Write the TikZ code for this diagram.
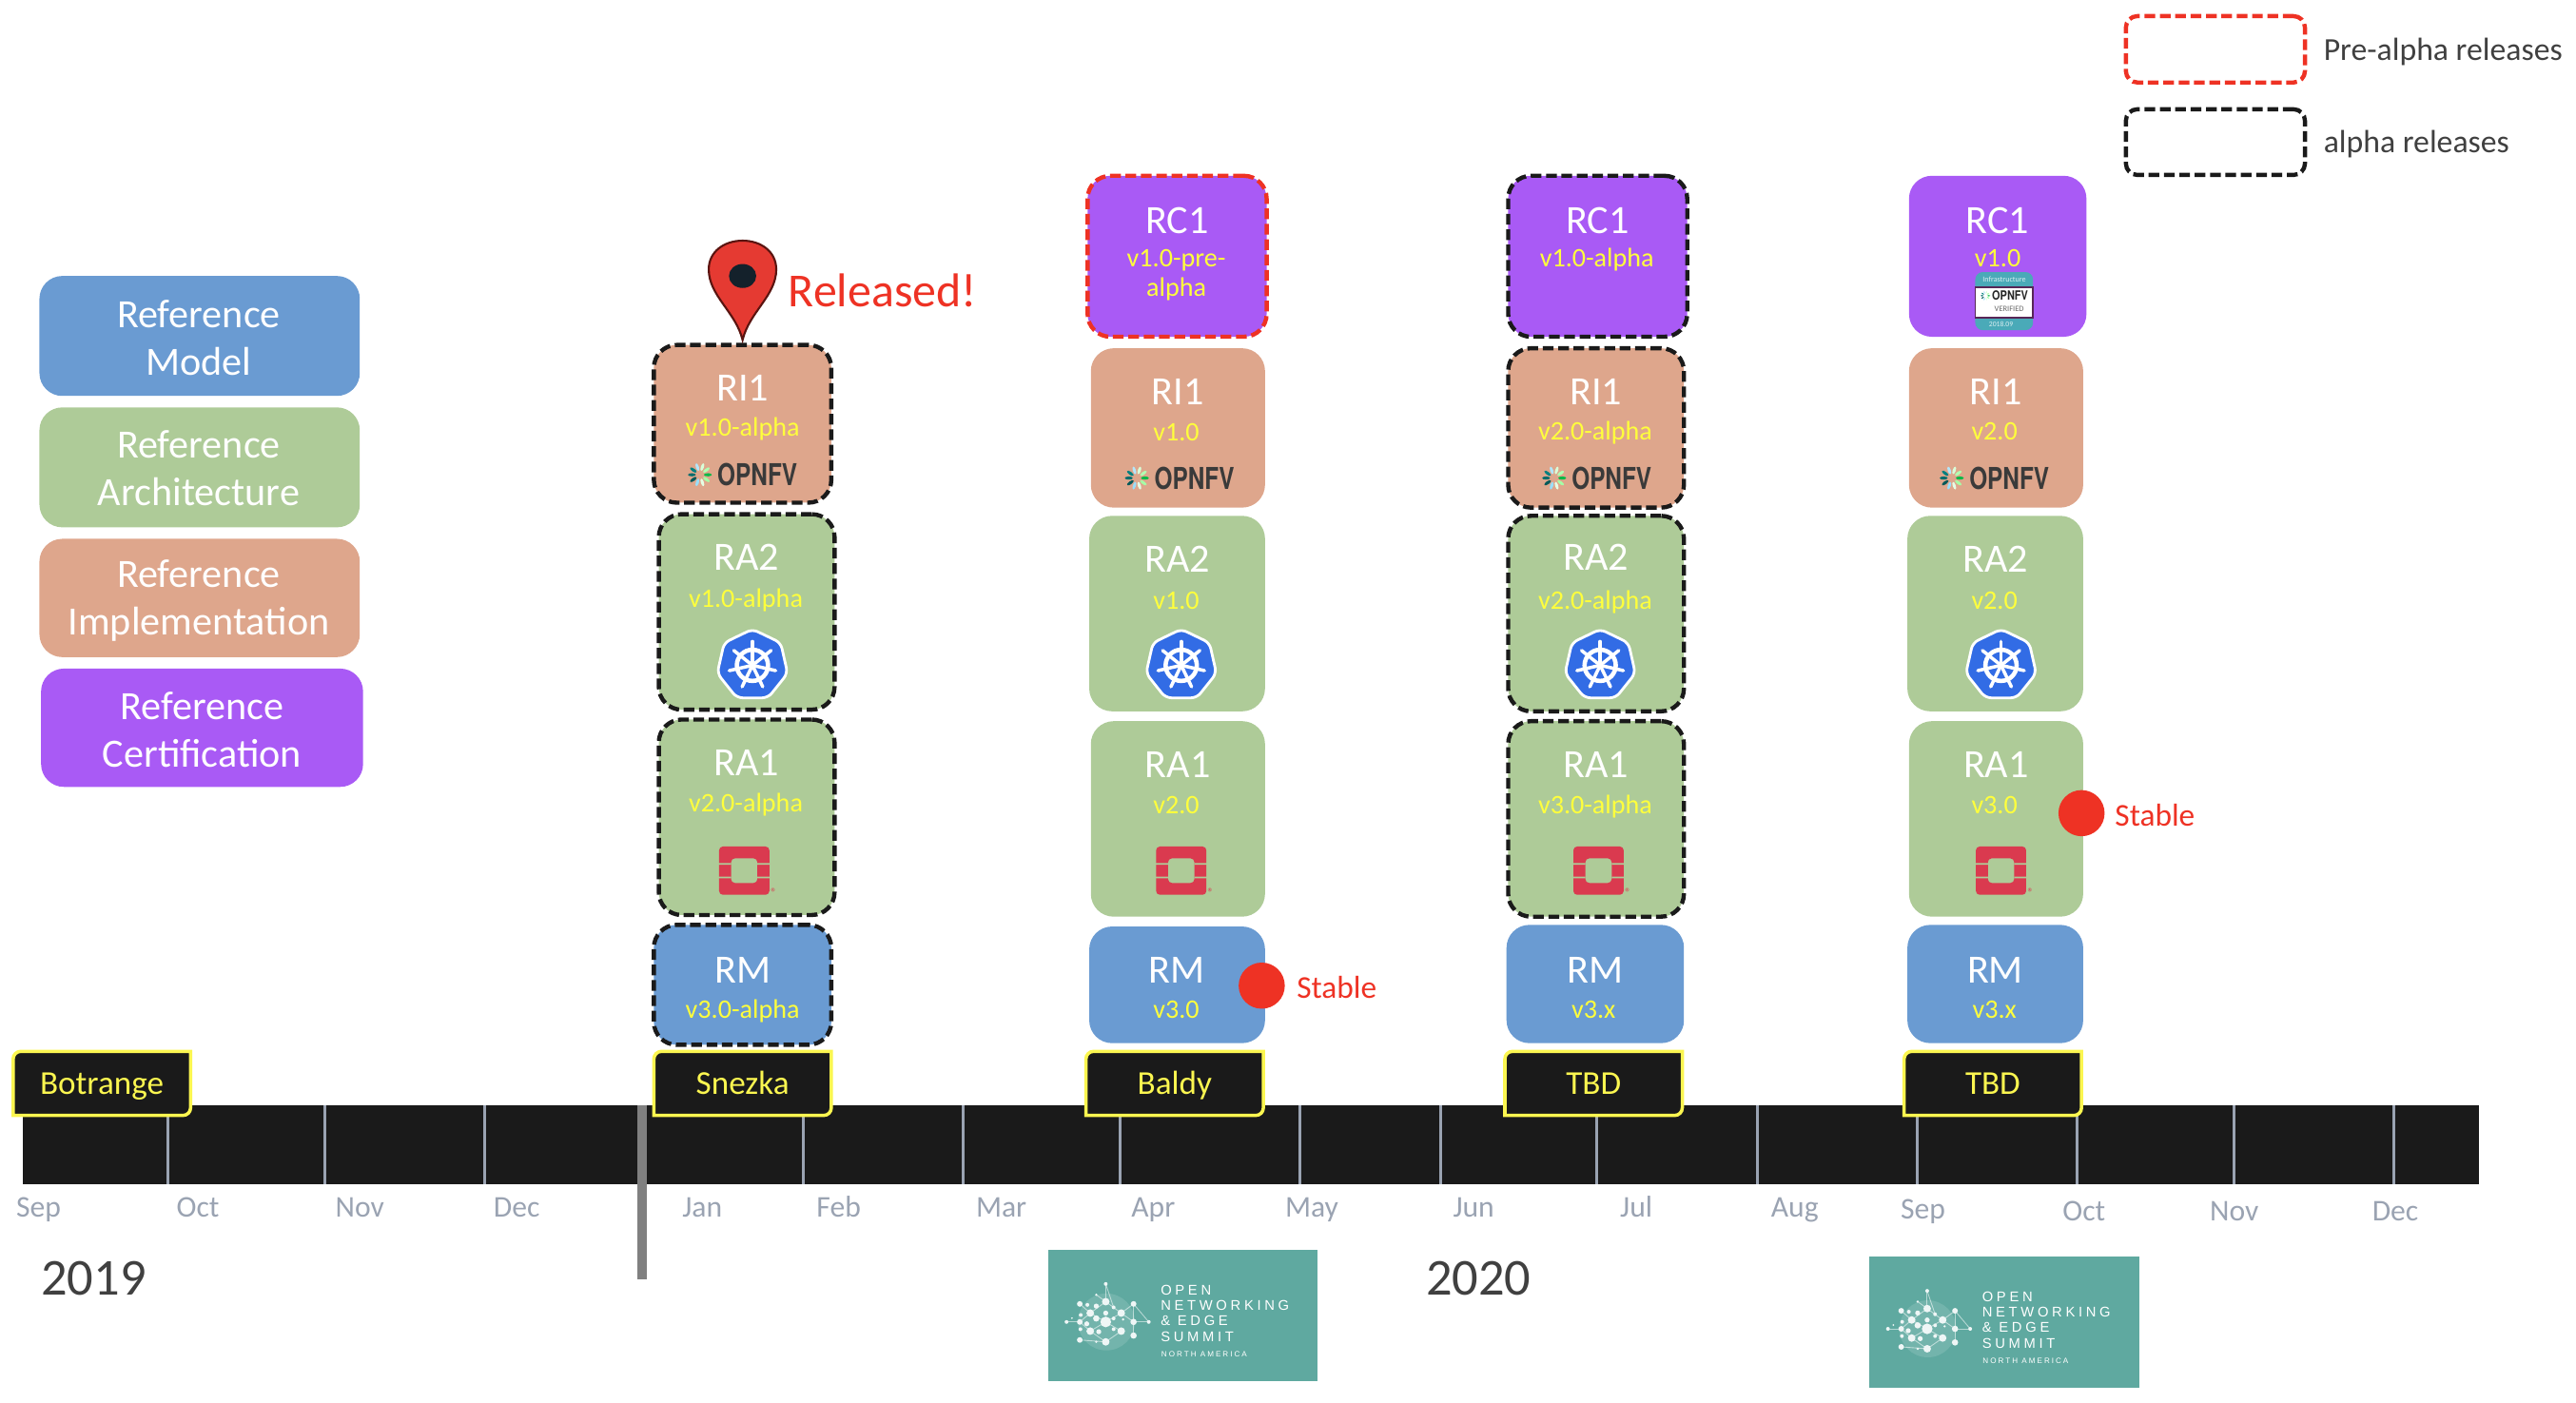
\documentclass[tikz,border=0pt]{standalone}
\usepackage{fontspec}
\setmainfont{Carlito}
\newfontfamily\onesfont[LetterSpace=25]{Liberation Sans}
\newfontfamily\logofont{TeX Gyre Heros}
\definecolor{cblue}{HTML}{6A9BD2}
\definecolor{cgreen}{HTML}{AECB98}
\definecolor{csalmon}{HTML}{DEA68C}
\definecolor{cpurple}{HTML}{A95AF5}
\definecolor{cred}{HTML}{EE3224}
\definecolor{cblack}{HTML}{1A1A1A}
\definecolor{cver}{HTML}{FFFF3C}
\definecolor{ctag}{HTML}{FBF650}
\definecolor{cmonth}{HTML}{9AA3B2}
\definecolor{cdark}{HTML}{404040}
\definecolor{cteal}{HTML}{5FA9A0}
\definecolor{ckube}{HTML}{326CE5}
\definecolor{cstack}{HTML}{DA3A4F}
\definecolor{cbadge}{HTML}{4AAAB8}
\definecolor{cpin}{HTML}{E53A32}
\definecolor{cpinedge}{HTML}{5A1410}
\definecolor{cpinhole}{HTML}{14212B}
\tikzset{
  bx/.style={rectangle,rounded corners=0.24cm,inner sep=0pt,draw=none},
  adash/.style={draw=cblack,line width=1.25pt,dash pattern=on 3.2pt off 1.4pt},
  rdash/.style={draw=cred,line width=1.25pt,dash pattern=on 3.2pt off 1.4pt},
  nodash/.style={draw=none},
  title/.style={text=white,font=\fontsize{12}{12}\selectfont,text height=8pt,text depth=0pt,inner sep=0pt},
  ver/.style={text=cver,font=\fontsize{8}{8.8}\selectfont,text height=5.6pt,text depth=1.6pt,inner sep=0pt,align=center,yshift=-0.75pt},
  lbl/.style={text=white,font=\fontsize{12}{14.2}\selectfont,align=center,inner sep=0pt},
  month/.style={text=cmonth,font=\fontsize{9}{9}\selectfont,inner sep=0pt,text height=6pt,text depth=2pt,yshift=-0.9pt},
  tagtxt/.style={text=ctag,font=\fontsize{10}{10}\selectfont,inner sep=0pt,text height=6.6pt,text depth=2pt,yshift=-0.9pt},
  tick/.style={draw=cmonth,line width=0.85pt},
  redtxt/.style={text=cred,font=\fontsize{9.5}{9.5}\selectfont,inner sep=0pt},
  dot/.style={circle,fill=cred,draw=none,inner sep=0pt,minimum size=0.485cm},
  dk/.style={text=cdark,inner sep=0pt},
}
% #1 name #2 fill #3 edge #4-7 box #8 title #9 title y
\newcommand{\relbox}[9]{%
  \node[bx,fill=#2,#3,minimum width={(#6-#4)*0.01727cm},minimum height={(#7-#5)*0.01727cm}] (#1) at ({(#4+#6)/2},{(#5+#7)/2}) {};
  \node[title] (#1t) at ({(#4+#6)/2},#9) {#8};
}
\newcommand{\starburst}[3]{% x y scale
  \begin{scope}[shift={(#1,#2)},x=#3*0.01727cm,y=-#3*0.01727cm]
    \foreach \a/\c in {0/green!45!teal,36/green!30!white,72/green!15!white,108/cyan!30!white,144/teal,180/teal!85!black,216/teal!70!black,252/cyan!40!white,288/green!10!white,324/green!35!white}{
      \fill[\c,rotate=\a] (4.9,0) ellipse (2.4 and 0.95);
    }
  \end{scope}
}
\newcommand{\opnfv}[3]{% name x y
  \starburst{#2-26}{#3}{1}
  \node[inner sep=0pt,text=cdark!90!black,font=\logofont\fontsize{9}{9}\bfseries\selectfont] (#1) at (#2+9,#3) {\scalebox{0.77}[1]{OPNFV}};
}
\newcommand{\kube}[2]{%
  \begin{scope}[shift={(#1,#2)}]
    \draw[fill=ckube,draw=white,line width=0.8pt,line join=round,rounded corners=0.06cm]
      (0,-22) -- (17.2,-13.7) -- (21.4,4.9) -- (9.5,19.8) -- (-9.5,19.8) -- (-21.4,4.9) -- (-17.2,-13.7) -- cycle;
    \draw[white,line width=1.3pt] (0,0) circle (9.5);
    \foreach \a in {0,...,6}{\draw[white,line width=1pt,line cap=round,rotate=360/7*\a] (0,-2) -- (0,-14.5);}
    \fill[white] (0,0) circle (2.2);
  \end{scope}
}
\newcommand{\ostack}[3]{% x y name
  \begin{scope}[shift={(#1,#2)}]
    \fill[cstack,rounded corners=0.04cm,even odd rule]
      (-15.3,-14.7) rectangle (15.3,14.7)
      (-8,-7.5) rectangle (8,7.5);
    \fill[cgreen] (-16,-4.6) rectangle (-8,-3.6) (8,-4.6) rectangle (16,-3.6)
                  (-16,3.6) rectangle (-8,4.6) (8,3.6) rectangle (16,4.6);
    \node[inner sep=0pt,text=cstack,font=\fontsize{3.5}{3.5}\selectfont] (#3) at (18,13.5) {®};
  \end{scope}
}
\newcommand{\ones}[3]{% name x y
  \begin{scope}[shift={(#2,#3)},x=0.003334cm,y=-0.003334cm,shift={(-126,-72)}]
    \fill[cteal] (126,72) rectangle (978,486);
    \fill[white,opacity=.13] (310,300) circle (90);
    \foreach \a/\b/\c/\d in {308/180/308/236,308/180/333/254,278/214/308/236,396/243/444/300,396/243/396/343,184/300/226/300,357/272/396/243,357/272/396/300,226/357/308/363,259/329/308/363,259/272/308/300,308/300/357/329,308/300/259/329,308/300/357/272,226/300/259/272,226/300/259/329,226/243/259/272,308/236/259/272,308/236/357/272,396/300/444/300,357/329/308/363}{
      \draw[white,opacity=.55,line width=0.25pt] (\a,\b) -- (\c,\d);
    }
    \foreach \a/\b/\r in {308/180/6,278/214/4,226/243/9,250/246/6,308/236/12,278/250/8,333/254/6,396/243/9,259/272/12,229/278/6,308/272/8,357/272/12,278/289/10,184/300/6,201/288/3,226/300/9,248/306/8,308/300/17,333/289/6,363/292/4,396/300/10,444/300/6,228/323/6,259/329/12,286/331/8,333/323/6,357/329/12,396/343/10,226/357/9,278/363/4,308/363/12}{
      \fill[white!90!cteal] (\a,\b) circle (\r);
    }
    \node[anchor=west,inner sep=0pt,text=white,font=\onesfont\fontsize{4.2}{4.2}\selectfont,text height=3pt,text depth=0pt] (#1a) at (480,198) {OPEN};
    \node[anchor=west,inner sep=0pt,text=white,font=\onesfont\fontsize{4.2}{4.2}\selectfont,text height=3pt,text depth=0pt] (#1b) at (480,247) {NETWORKING};
    \node[anchor=west,inner sep=0pt,text=white,font=\onesfont\fontsize{4.2}{4.2}\selectfont,text height=3pt,text depth=0pt] (#1c) at (480,296) {\& EDGE};
    \node[anchor=west,inner sep=0pt,text=white,font=\onesfont\fontsize{4.2}{4.2}\selectfont,text height=3pt,text depth=0pt] (#1d) at (480,345) {SUMMIT};
    \node[anchor=west,inner sep=0pt,text=white,font=\onesfont\fontsize{2.3}{2.3}\selectfont,text height=1.7pt,text depth=0pt] (#1e) at (482,400) {NORTH AMERICA};
  \end{scope}
}
\newcommand{\tagbox}[4]{% name x1 text offset
  \draw[fill=cblack,draw=ctag,line width=1pt] (#2,679) [rounded corners=0.08cm] -- (#2,640) [sharp corners] -- (#2+108,640) [rounded corners=0.08cm] -- (#2+108,679) [sharp corners] -- cycle;
  \node[tagtxt] (#1) at (#2+#4,659.5) {#3};
}
\begin{document}
\begin{tikzpicture}[x=0.01727cm,y=-0.01727cm]
\useasboundingbox (0,0) rectangle (1568,853.5);
% legend top right
\node[bx,rounded corners=0.12cm,rdash,minimum width={109*0.01727cm},minimum height={40.4*0.01727cm}] (legred) at (1348.5,30) {};
\node[bx,rounded corners=0.12cm,adash,minimum width={109*0.01727cm},minimum height={40*0.01727cm}] (legblk) at (1348.5,86.5) {};
\node[dk,anchor=west,font=\fontsize{9.6}{9.6}\selectfont] (legredt) at (1414,31.5) {Pre-alpha releases};
\node[dk,anchor=west,font=\fontsize{9.6}{9.6}\selectfont] (legblkt) at (1414,88) {alpha releases};
% legend left
\node[bx,fill=cblue,minimum width={195*0.01727cm},minimum height={73*0.01727cm}] (lrm) at (121.5,204.5) {};
\node[lbl] (lrmt) at (121,205.5) {Reference\\Model};
\node[bx,fill=cgreen,minimum width={195*0.01727cm},minimum height={73*0.01727cm}] (lra) at (121.5,284.5) {};
\node[lbl] (lrat) at (121,285) {Reference\\Architecture};
\node[bx,fill=csalmon,minimum width={195*0.01727cm},minimum height={72*0.01727cm}] (lri) at (121.5,364) {};
\node[lbl] (lrit) at (121,365.5) {Reference\\Implementation};
\node[bx,fill=cpurple,minimum width={196*0.01727cm},minimum height={72*0.01727cm}] (lrc) at (123,443) {};
\node[lbl] (lrct) at (123,444) {Reference\\Certification};
% column 1
\relbox{RIa}{csalmon}{adash}{398}{210}{506}{306}{RI1}{236}
\node[ver] (RIav) at (452,260) {v1.0-alpha};
\opnfv{RIal}{452}{289}
\relbox{RBa}{cgreen}{adash}{401}{313}{508}{432}{RA2}{339}
\node[ver] (RBav) at (454,364) {v1.0-alpha};
\kube{458}{405}
\relbox{RAa}{cgreen}{adash}{401}{438}{508}{557}{RA1}{464}
\node[ver] (RAav) at (454,488.5) {v2.0-alpha};
\ostack{453}{530}{osa}
\relbox{RMa}{cblue}{adash}{398}{563}{506}{636}{RM}{590}
\node[ver] (RMav) at (452,614) {v3.0-alpha};
% pin
\draw[fill=cpin,draw=cpinedge,line width=0.6pt] (452,207) .. controls (448,190) and (431.4,180) .. (431.4,164) .. controls (431.4,153) and (441,146.5) .. (452,146.5) .. controls (463,146.5) and (472.5,153) .. (472.5,164) .. controls (472.5,180) and (456,190) .. (452,207) -- cycle;
\fill[cpinhole] (452,168) ellipse (8.3 and 7.3);
\node[inner sep=0pt,anchor=west,text=cred,font=\fontsize{14.2}{14.2}\selectfont] (rel) at (479.5,177) {Released!};
% column 2
\relbox{RCb}{cpurple}{rdash}{662}{107}{771}{205}{RC1}{134}
\node[ver] (RCbv) at (716,175) {v1.0-pre-\\alpha};
\relbox{RIb}{csalmon}{nodash}{664}{212}{770}{309}{RI1}{238}
\node[ver] (RIbv) at (716,263) {v1.0};
\opnfv{RIbl}{718}{291}
\relbox{RBb}{cgreen}{nodash}{663}{314}{770}{433}{RA2}{340}
\node[ver] (RBbv) at (716,365) {v1.0};
\kube{719}{405}
\relbox{RAb}{cgreen}{nodash}{664}{439}{770}{558}{RA1}{465}
\node[ver] (RAbv) at (716,490) {v2.0};
\ostack{719}{530}{osb}
\relbox{RMb}{cblue}{nodash}{663}{564}{770}{635}{RM}{590}
\node[ver] (RMbv) at (716,614) {v3.0};
\node[dot] (stb) at (768,600) {};
\node[redtxt,anchor=west] (stbt) at (789,601) {Stable};
% column 3
\relbox{RCc}{cpurple}{adash}{918}{107}{1027}{205}{RC1}{134}
\node[ver] (RCcv) at (972,157) {v1.0-alpha};
\relbox{RIc}{csalmon}{adash}{918}{212}{1025}{309}{RI1}{238}
\node[ver] (RIcv) at (971,262) {v2.0-alpha};
\opnfv{RIcl}{972}{291}
\relbox{RBc}{cgreen}{adash}{918}{314}{1025}{433}{RA2}{339}
\node[ver] (RBcv) at (971,365) {v2.0-alpha};
\kube{974}{405}
\relbox{RAc}{cgreen}{adash}{918}{439}{1025}{558}{RA1}{465}
\node[ver] (RAcv) at (971,490) {v3.0-alpha};
\ostack{973}{530}{osc}
\relbox{RMc}{cblue}{nodash}{917}{563}{1025}{635}{RM}{590}
\node[ver] (RMcv) at (970,614) {v3.x};
% column 4
\relbox{RCd}{cpurple}{nodash}{1162}{107}{1270}{205}{RC1}{134}
\node[ver] (RCdv) at (1216,157) {v1.0};
% badge
\fill[cbadge,rounded corners=0.08cm] (1202.3,165.6) rectangle (1237.5,201);
\draw[fill=white,draw=black!45!violet!70!gray,line width=0.5pt] (1202.3,174.7) rectangle (1237.5,193.6);
\node[inner sep=0pt,text=white!80!cbadge,font=\fontsize{2.3}{2.3}\selectfont] (bdg1) at (1220,170.3) {Infrastructure};
\starburst{1208.5}{180}{0.42}
\node[inner sep=0pt,text=black!85,font=\logofont\fontsize{3.8}{3.8}\bfseries\selectfont] (bdg2) at (1223.5,180) {\scalebox{0.82}[1]{OPNFV}};
\node[inner sep=0pt,text=black!60,font=\fontsize{2.4}{2.4}\selectfont] (bdg3) at (1223,188) {VERIFIED};
\node[inner sep=0pt,text=white!80!cbadge,font=\fontsize{2.2}{2.2}\selectfont] (bdg4) at (1218,197.5) {2018.09};
\relbox{RId}{csalmon}{nodash}{1162}{212}{1268}{309}{RI1}{238}
\node[ver] (RIdv) at (1214,262) {v2.0};
\opnfv{RIdl}{1214}{291}
\relbox{RBd}{cgreen}{nodash}{1161}{314}{1268}{433}{RA2}{340}
\node[ver] (RBdv) at (1214,365) {v2.0};
\kube{1218}{405}
\relbox{RAd}{cgreen}{nodash}{1162}{439}{1268}{558}{RA1}{465}
\node[ver] (RAdv) at (1214,490) {v3.0};
\ostack{1218}{530}{osd}
\relbox{RMd}{cblue}{nodash}{1161}{563}{1268}{635}{RM}{590}
\node[ver] (RMdv) at (1214,614) {v3.x};
\node[dot] (std) at (1267,495) {};
\node[redtxt,anchor=west] (stdt) at (1287,496) {Stable};
% timeline
\node[fill=cblack,inner sep=0pt,minimum width={1495*0.01727cm},minimum height={48*0.01727cm}] (line) at (761.5,697) {};
\foreach \x in {102,198,295,489,586,682,791,877,972,1070,1167,1264,1360,1457}{
  \draw[tick] (\x,673) -- (\x,721);
}
\fill[black!50] (388,673) rectangle (393.5,779);
\tagbox{tga}{8}{Botrange}{54}
\tagbox{tgb}{398}{Snezka}{54}
\tagbox{tgc}{661}{Baldy}{54}
\tagbox{tgd}{916}{TBD}{54}
\tagbox{tge}{1159}{TBD}{54}
% months
\foreach \n/\x/\y/\t in {ma/23.5/735/Sep,mb/120.5/735/Oct,mc/219/735/Nov,md/314.5/735/Dec,me/427.5/735/Jan,mf/510.5/735/Feb,mg/609.5/735/Mar,mh/702/735/Apr,mi/798.5/735/May,mj/897/735/Jun,mk/996/735/Jul,ml/1092.5/735/Aug,mm/1170.5/736/Sep,mn/1268.5/737/Oct,mo/1360/737/Nov,mp/1458/737/Dec}{
  \node[month] (\n) at (\x,\y) {\t};
}
\node[dk,font=\fontsize{15.5}{15.5}\selectfont] (y19) at (57,778) {2019};
\node[dk,font=\fontsize{15.5}{15.5}\selectfont] (y20) at (900,778) {2020};
\ones{onea}{638}{760.8}
\ones{oneb}{1138}{765}
\end{tikzpicture}
\end{document}
